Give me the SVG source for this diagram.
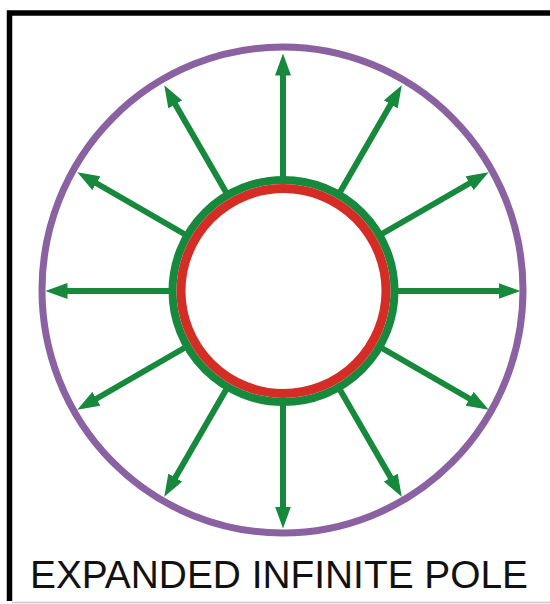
<svg xmlns="http://www.w3.org/2000/svg" width="550" height="604" viewBox="0 0 550 604">
  <defs>
    <style>
      .arrow { stroke: #17893d; stroke-width: 6; fill: none; marker-end: url(#head); }
      .label { font-family: "Liberation Sans", Arial, sans-serif; font-size: 38px; fill: #111; }
    </style>
    <marker id="head" markerUnits="userSpaceOnUse" markerWidth="22" markerHeight="16" refX="7" refY="8" orient="auto" viewBox="0 0 22 16">
      <path d="M0,0 L22,8 L0,16 z" fill="#17893d"/>
    </marker>
  </defs>
  <rect width="550" height="604" fill="#fff"/>
  <g id="frame">
    <path d="M9.5,601 V13 H550" fill="none" stroke="#000" stroke-width="5.5"/>
    <line x1="12" y1="602.5" x2="550" y2="602.5" stroke="#c8c8c8" stroke-width="1.5"/>
  </g>
  <g id="field-boundary">
    <ellipse cx="282.5" cy="290" rx="240.5" ry="243" fill="none" stroke="#8a62a2" stroke-width="7"/>
  </g>
  <g id="connectors">
    <line class="arrow" x1="394" y1="291" x2="505.5" y2="291"/>
    <line class="arrow" x1="379.13" y1="235.5" x2="475.69" y2="179.75"/>
    <line class="arrow" x1="338.5" y1="194.87" x2="394.25" y2="98.31"/>
    <line class="arrow" x1="283" y1="180" x2="283" y2="68.5"/>
    <line class="arrow" x1="227.5" y1="194.87" x2="171.75" y2="98.31"/>
    <line class="arrow" x1="186.87" y1="235.5" x2="90.31" y2="179.75"/>
    <line class="arrow" x1="172" y1="291" x2="60.5" y2="291"/>
    <line class="arrow" x1="186.87" y1="346.5" x2="90.31" y2="402.25"/>
    <line class="arrow" x1="227.5" y1="387.13" x2="171.75" y2="483.69"/>
    <line class="arrow" x1="283" y1="402" x2="283" y2="513.5"/>
    <line class="arrow" x1="338.5" y1="387.13" x2="394.25" y2="483.69"/>
    <line class="arrow" x1="379.13" y1="346.5" x2="475.69" y2="402.25"/>
  </g>
  <g id="pole">
    <circle cx="283.5" cy="291" r="111" fill="#fff" stroke="#17893d" stroke-width="8"/>
    <circle cx="283.5" cy="291" r="102.5" fill="#fff" stroke="#d42d26" stroke-width="9"/>
  </g>
  <g id="title">
    <text class="label" x="30" y="588" textLength="498" lengthAdjust="spacingAndGlyphs">EXPANDED INFINITE POLE</text>
  </g>
</svg>
